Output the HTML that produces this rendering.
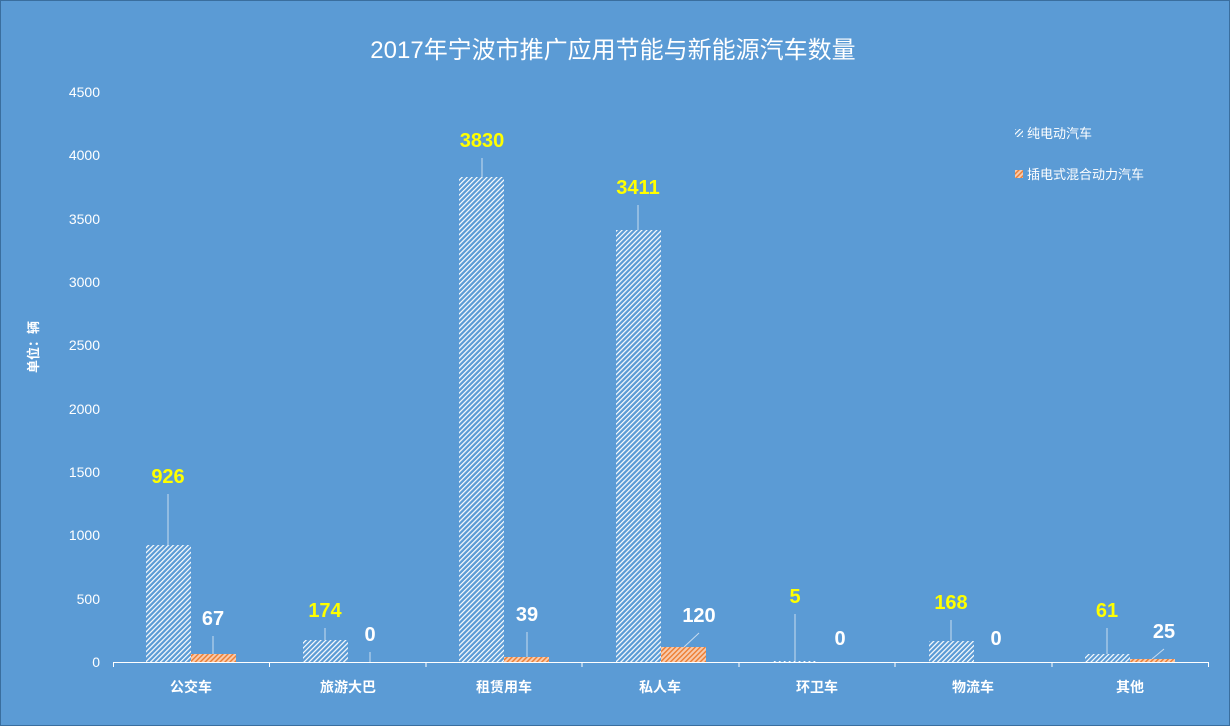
<!DOCTYPE html>
<html><head><meta charset="utf-8"><style>
body{margin:0;background:#5B9BD5;}
svg{display:block;font-family:"Liberation Sans","Noto Sans CJK SC",sans-serif;}
</style></head><body>
<svg width="1230" height="726" viewBox="0 0 1230 726">
<defs>
<pattern id="hw" width="3.5" height="3.5" patternUnits="userSpaceOnUse" patternTransform="rotate(45)">
<rect width="3.5" height="3.5" fill="#5B9BD5"/><rect width="1.2" height="3.5" fill="#fff"/></pattern>
<pattern id="ho" width="3.5" height="3.5" patternUnits="userSpaceOnUse" patternTransform="rotate(45)">
<rect width="3.5" height="3.5" fill="#F8CBAD"/><rect width="1.4" height="3.5" fill="#ED7D31"/></pattern>
</defs>
<rect x="0.5" y="0.5" width="1229" height="725" fill="#5B9BD5" stroke="#3a6e9e"/>
<text x="613" y="58" text-anchor="middle" font-size="24" fill="#fff">2017年宁波市推广应用节能与新能源汽车数量</text>
<g font-size="14" fill="#fff" text-anchor="end">
<text x="100" y="667">0</text><text x="100" y="604">500</text><text x="100" y="540">1000</text>
<text x="100" y="477">1500</text><text x="100" y="414">2000</text><text x="100" y="350">2500</text>
<text x="100" y="287">3000</text><text x="100" y="224">3500</text><text x="100" y="160">4000</text>
<text x="100" y="97">4500</text>
</g>
<text transform="translate(38,347) rotate(-90)" text-anchor="middle" font-size="13" font-weight="bold" fill="#fff">单位：辆</text>
<line x1="113" y1="662.5" x2="1209" y2="662.5" stroke="#fff"/>
<g stroke="#fff"><line x1="113.5" y1="662" x2="113.5" y2="667"/><line x1="269.5" y1="662" x2="269.5" y2="667"/><line x1="426" y1="662" x2="426" y2="667"/><line x1="582" y1="662" x2="582" y2="667"/><line x1="739" y1="662" x2="739" y2="667"/><line x1="895" y1="662" x2="895" y2="667"/><line x1="1052" y1="662" x2="1052" y2="667"/><line x1="1208.5" y1="662" x2="1208.5" y2="667"/></g>
<g>
<rect x="146" y="545" width="45" height="117" fill="url(#hw)"/><rect x="191" y="654" width="45" height="8" fill="url(#ho)"/>
<rect x="303" y="640" width="45" height="22" fill="url(#hw)"/>
<rect x="459" y="177" width="45" height="485" fill="url(#hw)"/><rect x="504" y="657" width="45" height="5" fill="url(#ho)"/>
<rect x="616" y="230" width="45" height="432" fill="url(#hw)"/><rect x="661" y="647" width="45" height="15" fill="url(#ho)"/>
<rect x="772" y="661" width="45" height="1" fill="url(#hw)"/>
<rect x="929" y="641" width="45" height="21" fill="url(#hw)"/>
<rect x="1085" y="654" width="45" height="8" fill="url(#hw)"/><rect x="1130" y="659" width="45" height="3" fill="url(#ho)"/>
</g>
<g stroke="#c9dcef" stroke-width="1">
<line x1="168" y1="494" x2="168" y2="545"/><line x1="213" y1="636" x2="213" y2="654"/>
<line x1="325" y1="628" x2="325" y2="640"/><line x1="370" y1="652" x2="370" y2="662"/>
<line x1="482" y1="158" x2="482" y2="177"/><line x1="527" y1="632" x2="527" y2="657"/>
<line x1="638" y1="205" x2="638" y2="230"/><line x1="699" y1="633" x2="684" y2="647"/>
<line x1="795" y1="614" x2="795" y2="661"/>
<line x1="951" y1="620" x2="951" y2="641"/>
<line x1="1107" y1="628" x2="1107" y2="654"/><line x1="1164" y1="649" x2="1152" y2="659"/>
</g>
<g font-size="20" font-weight="bold" text-anchor="middle">
<g fill="#FFFF00">
<text x="168" y="483">926</text><text x="325" y="617">174</text><text x="482" y="147">3830</text>
<text x="638" y="194">3411</text><text x="795" y="603">5</text><text x="951" y="609">168</text><text x="1107" y="617">61</text>
</g>
<g fill="#fff">
<text x="213" y="625">67</text><text x="370" y="641">0</text><text x="527" y="621">39</text>
<text x="699" y="622">120</text><text x="840" y="645">0</text><text x="996" y="645">0</text><text x="1164" y="638">25</text>
</g>
</g>
<g font-size="14" font-weight="bold" fill="#fff" text-anchor="middle">
<text x="191" y="692">公交车</text><text x="348" y="692">旅游大巴</text><text x="504" y="692">租赁用车</text>
<text x="660" y="692">私人车</text><text x="817" y="692">环卫车</text><text x="973" y="692">物流车</text><text x="1130" y="692">其他</text>
</g>
<rect x="1015" y="129" width="8" height="8" fill="url(#hw)"/>
<text x="1027" y="138" font-size="13" fill="#fff">纯电动汽车</text>
<rect x="1015" y="170" width="8" height="8" fill="url(#ho)"/>
<text x="1027" y="179" font-size="13" fill="#fff">插电式混合动力汽车</text>
</svg>
</body></html>
